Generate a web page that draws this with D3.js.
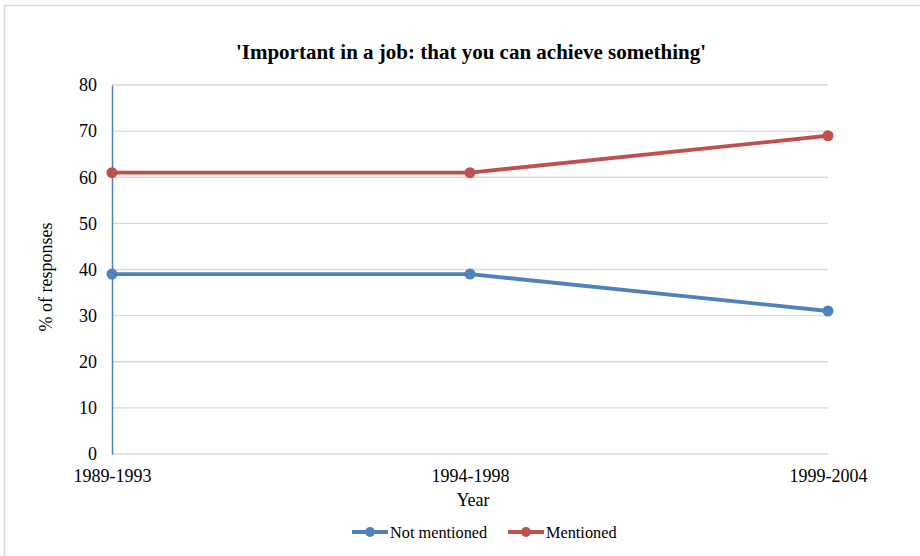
<!DOCTYPE html>
<html><head><meta charset="utf-8">
<script src="https://cdn.jsdelivr.net/npm/d3@7"></script>
<style>body{margin:0;background:#fff}svg{display:block}</style>
</head><body><svg id="c" width="920" height="556"></svg>
<script>
const categories = ["1989-1993", "1994-1998", "1999-2004"];
const notMentioned = [39, 39, 31];
const mentioned = [61, 61, 69];
const seriesNames = ["Not mentioned", "Mentioned"];
const seriesColors = ["#4f81bd", "#c0504d"];
const yTicks = [0, 10, 20, 30, 40, 50, 60, 70, 80];

const svg = d3.select("#c");
const font = "'Liberation Serif', 'Times New Roman', serif";
svg.append("rect").attr("x", 4.5).attr("y", 5.5).attr("width", 930).attr("height", 560)
  .attr("fill", "#fff").attr("stroke", "#d9d9d9").attr("stroke-width", 1.5);

const x = d3.scalePoint().domain(categories).range([112, 828]);
const y = d3.scaleLinear().domain([0, 80]).range([454, 85]);

// gridlines
svg.append("g").selectAll("line").data(yTicks).join("line")
  .attr("x1", 112).attr("x2", 828).attr("y1", d => y(d)).attr("y2", d => y(d))
  .attr("stroke", "#d9d9d9").attr("stroke-width", 1.3);

// y axis
const ya = svg.append("g").attr("transform", "translate(112,0)")
  .call(d3.axisLeft(y).tickValues(yTicks).tickSize(0).tickPadding(15));
ya.select(".domain").attr("stroke", "#4f81bd").attr("stroke-width", 1.5);
ya.selectAll("text").attr("font-family", font).attr("font-size", 18).attr("fill", "#000");

// x axis
const xa = svg.append("g").attr("transform", "translate(0,454)")
  .call(d3.axisBottom(x).tickSize(0).tickPadding(15));
xa.select(".domain").remove();
xa.selectAll("text").attr("font-family", font).attr("font-size", 18).attr("fill", "#000");

// titles
svg.append("text").attr("x", 471).attr("y", 59).attr("text-anchor", "middle")
  .attr("font-family", font).attr("font-size", 21).attr("font-weight", "bold")
  .text("'Important in a job: that you can achieve something'");
svg.append("text").attr("x", 473).attr("y", 506).attr("text-anchor", "middle")
  .attr("font-family", font).attr("font-size", 18).text("Year");
svg.append("text").attr("transform", "translate(52,277) rotate(-90)").attr("text-anchor", "middle")
  .attr("font-family", font).attr("font-size", 18).text("% of responses");

// series
const series = [notMentioned, mentioned];
const line = d3.line().x((d, i) => x(categories[i])).y(d => y(d));
series.forEach((vals, si) => {
  svg.append("path").datum(vals).attr("d", line).attr("fill", "none")
    .attr("stroke", seriesColors[si]).attr("stroke-width", 3.8).attr("stroke-linejoin", "round");
  svg.append("g").selectAll("circle").data(vals).join("circle")
    .attr("cx", (d, i) => x(categories[i])).attr("cy", d => y(d)).attr("r", 5.5)
    .attr("fill", seriesColors[si]);
});

// legend
const legX = [352, 508];
seriesNames.forEach((n, i) => {
  const g = svg.append("g");
  g.append("line").attr("x1", legX[i]).attr("x2", legX[i] + 36).attr("y1", 532).attr("y2", 532)
    .attr("stroke", seriesColors[i]).attr("stroke-width", 3.8);
  g.append("circle").attr("cx", legX[i] + 18).attr("cy", 532).attr("r", 5).attr("fill", seriesColors[i]);
  g.append("text").attr("x", legX[i] + 38).attr("y", 538).attr("font-family", font)
    .attr("font-size", 16.3).text(n);
});
</script></body></html>
